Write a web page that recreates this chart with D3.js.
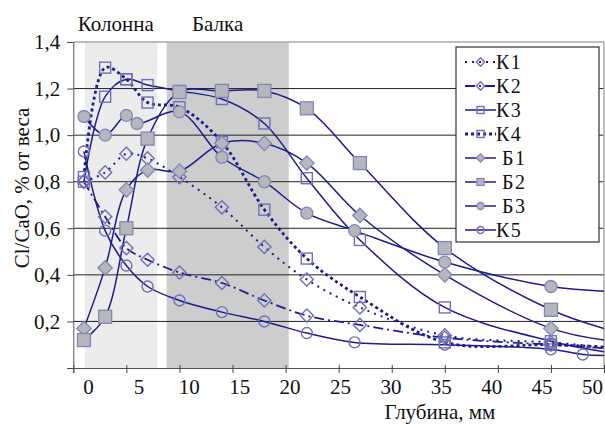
<!DOCTYPE html>
<html><head><meta charset="utf-8">
<script src="https://cdn.jsdelivr.net/npm/d3@7"></script>
<style>
html,body{margin:0;padding:0;background:#fff;font-family:"Liberation Serif",serif;}
svg text{font-family:"Liberation Serif",serif;}
</style></head>
<body><div id="chart"></div>
<script>
// ---- data ----
const seriesNames = ["К1","К2","К3","К4","Б1","Б2","Б3","К5"];
const k1X = [1,3,5,7,10,14,18,22,27,35,45,50];
const k1Y = [0.80,0.84,0.92,0.90,0.82,0.69,0.52,0.38,0.26,0.14,0.11,0.09];
const k2X = [1,3,5,7,10,14,18,22,27,35,45,50];
const k2Y = [0.80,0.65,0.515,0.465,0.41,0.365,0.29,0.225,0.185,0.13,0.10,0.085];
const k3X = [1,3,5,7,10,14,18,22,27,35,45,50];
const k3Y = [0.80,1.165,1.24,1.215,1.19,1.155,1.05,0.815,0.55,0.26,0.115,0.07];
const k4X = [1,3,5,7,10,14,18,22,27,35,45,50];
const k4Y = [0.82,1.29,1.24,1.14,1.12,0.97,0.68,0.47,0.305,0.11,0.10,0.09];
const b1X = [1,3,5,7,10,14,18,22,27,35,45,50];
const b1Y = [0.17,0.43,0.765,0.85,0.845,0.965,0.965,0.88,0.655,0.40,0.17,0.12];
const b2X = [1,3,5,7,10,14,18,22,27,35,45,50];
const b2Y = [0.12,0.22,0.60,0.985,1.185,1.19,1.19,1.115,0.88,0.515,0.25,0.17];
const b3X = [1,3,5,6,10,14,18,22,26.5,35,45,50];
const b3Y = [1.08,1.00,1.085,1.05,1.10,0.905,0.80,0.665,0.59,0.455,0.35,0.33];
const k5X = [1,3,5,7,10,14,18,22,26.5,35,45,48,50];
const k5Y = [0.93,0.59,0.44,0.35,0.29,0.24,0.20,0.15,0.11,0.10,0.08,0.058,0.054];

const regionNames = ["Колонна","Балка"];
const regionFrom = [1.1, 8.8];
const regionTo = [7.9, 20.3];
const regionLabelAt = [4.0, 13.6];

const xTicks = [0,5,10,15,20,25,30,35,40,45,50];
const yTicks = [0,0.2,0.4,0.6,0.8,1.0,1.2,1.4];
const xTitle = "Глубина, мм";
const yTitle = "Cl/CaO, % от веса";

// ---- styles ----
const FONT = "Liberation Serif, serif";
const lineColor = "#1d1d8c";
const hollowStroke = "#7070b6";
const filledFill = "#b6b6be";
const filledStroke = "#8686b6";
const seriesStyle = {
  "К1": {dash:"2,5", w:2, marker:"diamond", filled:false},
  "К2": {dash:"10,4,2,4", w:1.8, marker:"diamond", filled:false},
  "К3": {dash:null, w:1.5, marker:"square", filled:false},
  "К4": {dash:"3,3", w:2.8, marker:"square", filled:false},
  "Б1": {dash:null, w:1.5, marker:"diamond", filled:true},
  "Б2": {dash:null, w:1.5, marker:"square", filled:true},
  "Б3": {dash:null, w:1.5, marker:"circle", filled:true},
  "К5": {dash:null, w:1.5, marker:"circle", filled:false}
};
const seriesXs = [k1X,k2X,k3X,k4X,b1X,b2X,b3X,k5X];
const seriesYs = [k1Y,k2Y,k3Y,k4Y,b1Y,b2Y,b3Y,k5Y];
const series = seriesNames.map((n,i)=>({name:n, pts: seriesXs[i].map((x,j)=>({x, y: seriesYs[i][j]}))}));

const W = 605, H = 424;
const svg = d3.select("#chart").append("svg").attr("width",W).attr("height",H)
  .style("display","block").style("font-family",FONT);

const x = d3.scaleLinear().domain([0,50]).range([73.3,604]);
const xLabel = d3.scaleLinear().domain([0,50]).range([88,592]);
const y = d3.scaleLinear().domain([0,1.4]).range([368,42]);

// shaded regions
regionNames.forEach((name,i)=>{
  svg.append("rect").attr("x",x(regionFrom[i])).attr("y",y(1.4))
    .attr("width",x(regionTo[i])-x(regionFrom[i])).attr("height",y(0)-y(1.4))
    .attr("fill", i===0 ? "#ececec" : "#cdcdcd");
  svg.append("text").attr("x",x(regionLabelAt[i])).attr("y",31)
    .attr("text-anchor","middle").attr("font-size",21).attr("fill","#111")
    .style("font-family",FONT).text(name);
});

// gridlines
svg.append("g").selectAll("line").data(yTicks.filter(v=>v>0 && v<1.4)).join("line")
  .attr("x1",x(0)).attr("x2",x(50)).attr("y1",d=>y(d)).attr("y2",d=>y(d))
  .attr("stroke","#222").attr("stroke-width",1);

// top and right border
svg.append("line").attr("x1",x(0)).attr("x2",x(50)).attr("y1",y(1.4)).attr("y2",y(1.4)).attr("stroke","#aaa").attr("stroke-width",1.5);
svg.append("line").attr("x1",x(50)).attr("x2",x(50)).attr("y1",y(1.4)).attr("y2",y(0)).attr("stroke","#aaa").attr("stroke-width",1.5);

// axes
const fmt = v => v===0 ? "" : d3.format(".1f")(v).replace(".",",");
const yAxis = svg.append("g").attr("transform",`translate(${x(0)},0)`)
  .call(d3.axisLeft(y).tickValues(yTicks).tickFormat(fmt).tickSize(6).tickPadding(7));
yAxis.attr("font-family",null).style("font-family",FONT);
yAxis.selectAll("text").attr("font-size",21).attr("fill","#111").style("font-family",FONT);
yAxis.select(".domain").attr("stroke","#555");
yAxis.selectAll(".tick line").attr("stroke","#444");

const xAxisTicks = svg.append("g").attr("transform",`translate(0,${y(0)})`)
  .call(d3.axisBottom(x).tickValues(xTicks).tickFormat("").tickSize(5));
xAxisTicks.select(".domain").attr("stroke","#555");
xAxisTicks.selectAll(".tick line").attr("stroke","#444").attr("y1",-3);
const xAxisLabels = svg.append("g").attr("transform",`translate(0,${y(0)})`)
  .call(d3.axisBottom(xLabel).tickValues(xTicks).tickSize(0).tickPadding(11));
xAxisLabels.attr("font-family",null).style("font-family",FONT);
xAxisLabels.select(".domain").remove();
xAxisLabels.selectAll("text").attr("font-size",21).attr("fill","#111").style("font-family",FONT);

svg.append("text").attr("x",440).attr("y",419).attr("text-anchor","middle")
  .attr("font-size",21).attr("fill","#111").style("font-family",FONT).text(xTitle);
svg.append("text").attr("transform","translate(29,188) rotate(-90)").attr("text-anchor","middle")
  .attr("font-size",21).attr("fill","#111").style("font-family",FONT).text(yTitle);

// lines
const line = d3.line().x(d=>x(d.x)).y(d=>y(d.y)).curve(d3.curveCatmullRom.alpha(0.5));
svg.append("clipPath").attr("id","plotclip").append("rect")
  .attr("x",x(0)).attr("y",y(1.4)).attr("width",x(50)-x(0)).attr("height",y(0)-y(1.4));
const gLines = svg.append("g").attr("clip-path","url(#plotclip)");
series.forEach(s=>{
  const st = seriesStyle[s.name];
  gLines.append("path").attr("d",line(s.pts)).attr("fill","none")
    .attr("stroke",lineColor).attr("stroke-width",st.w)
    .attr("stroke-dasharray",st.dash);
});

function drawMarker(g, type, filled, cx, cy, size){
  const fill = filled ? filledFill : "none";
  const stroke = filled ? filledStroke : hollowStroke;
  let el;
  if(type==="square"){
    el = g.append("rect").attr("x",cx-size/2).attr("y",cy-size/2).attr("width",size).attr("height",size);
  } else if(type==="circle"){
    el = g.append("circle").attr("cx",cx).attr("cy",cy).attr("r",size/2);
  } else {
    const h = size*0.6;
    el = g.append("path").attr("d",`M${cx},${cy-h}L${cx+h},${cy}L${cx},${cy+h}L${cx-h},${cy}Z`);
  }
  el.attr("fill",fill).attr("stroke",stroke).attr("stroke-width",filled?1.3:1.4);
}

// markers (points inside the plotted range)
const gMarks = svg.append("g");
series.forEach(s=>{
  const st = seriesStyle[s.name];
  s.pts.filter(p=>p.x<50).forEach(p=>{
    const size = st.filled ? (st.marker==="square"?13:12) : 11;
    drawMarker(gMarks, st.marker, st.filled, x(p.x), y(p.y), size);
  });
});

// legend
const lg = svg.append("g");
lg.append("rect").attr("x",456).attr("y",47).attr("width",143).attr("height",195)
  .attr("fill","#fff").attr("stroke","#333").attr("stroke-width",1.2);
seriesNames.forEach((n,i)=>{
  const st = seriesStyle[n];
  const cy = 62 + i*24;
  lg.append("line").attr("x1",465).attr("x2",496).attr("y1",cy).attr("y2",cy)
    .attr("stroke",lineColor).attr("stroke-width",st.w).attr("stroke-dasharray",st.dash);
  drawMarker(lg, st.marker, st.filled, 480.5, cy, 7);
  lg.append("text").attr("x", n[0]==="Б" ? 502 : 496).attr("y",cy+7)
    .attr("font-size",20).attr("fill","#111").attr("letter-spacing",1.5)
    .style("font-family",FONT).text(n);
});
</script>
</body></html>
